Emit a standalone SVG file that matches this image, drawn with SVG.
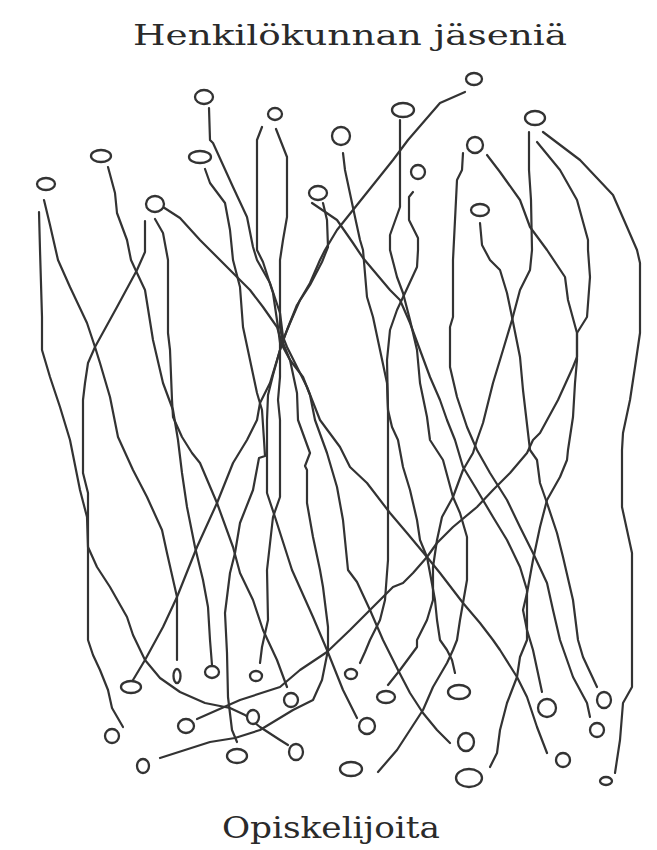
<svg xmlns="http://www.w3.org/2000/svg" width="657" height="850" viewBox="0 0 657 850">
<style>
.n{fill:#fff;stroke:#333;stroke-width:2.3}
.c{fill:none;stroke:#333;stroke-width:2.2;stroke-linejoin:round;stroke-linecap:round}
.t{font-family:"DejaVu Serif","Liberation Serif",serif;fill:#2a2a2a}
</style>
<rect width="657" height="850" fill="#fff"/>
<text class="t" x="133" y="45" font-size="28" textLength="434" lengthAdjust="spacingAndGlyphs">Henkilökunnan jäseniä</text>
<text class="t" x="222" y="838" font-size="30" textLength="218" lengthAdjust="spacingAndGlyphs">Opiskelijoita</text>
<g id="connectors">
<polyline id="A" class="c" points="39,212 40,250 42,317 42,350 50,377 60,407 70,440 75,465 80,490 87,517 88,547 97,567 110,587 127,617 133,635 145,660 160,678 180,692 205,703 230,708 245,715 260,727 280,740 288,745"/>
<polyline id="B" class="c" points="44,200 50,225 58,260 70,287 87,323 95,347 100,363 110,397 118,437 133,470 147,497 162,530 167,553 177,597 177,660"/>
<polyline id="C" class="c" points="108,167 115,193 117,213 127,240 131,260 137,273 145,290 153,340 163,383 173,410 178,440 182,473 187,507 195,547 203,580 208,607 210,640 212,665"/>
<polyline id="D" class="c" points="145,221 145,252 137,270 117,307 95,347 88,363 85,383 83,400 83,473 88,493 88,640 93,655 100,670 108,690 112,708 123,727"/>
<polyline id="E" class="c" points="155,219 163,233 168,260 168,333 170,350 172,400 173,417 182,437 192,453 200,463 217,503 233,547 240,573 253,600 263,630 277,660 287,687"/>
<polyline id="F" class="c" points="163,207 180,218 200,240 210,250 230,270 250,290 263,307 277,327 283,347 290,360 303,377 310,395 315,420 327,453 337,487 343,520 348,570 357,582 370,610 383,640 398,670 410,693 423,713 437,730 450,743"/>
<polyline id="G" class="c" points="205,169 210,183 225,203 230,230 233,260 240,287 243,327 250,360 257,393 262,410 264,440 265,456 259,458 253,490 240,523 235,553 230,573 225,613 227,653 228,697 232,730 237,742"/>
<polyline id="H" class="c" points="209,108 210,140 213,143 233,187 247,217 253,247 257,260 270,283 280,313 283,337 287,347 297,367 307,387 320,420 340,447 350,467 367,483 390,513 407,533 427,557 440,573 463,603 480,623 493,640 500,650 517,677 527,697 537,727 547,753"/>
<polyline id="I" class="c" points="262,127 257,140 257,250 263,262 273,293 278,327 280,343 280,377 278,400 280,420 280,497 273,517 267,570 268,620 262,647 260,663"/>
<polyline id="J" class="c" points="276,129 287,157 287,217 283,240 280,260 280,327 283,343 290,360 297,393 298,420 310,453 305,466 307,470 307,503 313,537 320,570 323,587 328,627 328,650 322,680 313,700 293,710 260,730 235,738 210,742 160,758"/>
<polyline id="K" class="c" points="465,92 440,103 427,118 408,140 393,160 373,185 353,210 337,230 325,250 320,260 310,283 300,300 290,323 283,340 277,360 270,383 260,403 257,420 247,440 233,463 217,503 197,547 177,597 163,627 145,660 133,680"/>
<polyline id="L7b" class="c" points="323,203 327,220 328,247 322,262 310,285 297,305 287,330 280,350 273,375 268,395 267,420 267,493 275,517 292,570 313,617 327,650 343,690 357,718"/>
<polyline id="L7a" class="c" points="312,203 337,220 353,243 363,258 390,290 400,300 410,323 420,350 430,377 440,400 447,420 455,440 463,467 477,490 493,517 507,540 520,567 527,590 527,640 520,657 517,677 507,703 500,730 497,753 490,767"/>
<polyline id="L9" class="c" points="400,120 400,207 390,235 390,250 397,277 403,293 410,320 417,350 420,383 427,417 430,440 443,460 453,497 460,513 467,537 467,580 463,603 460,620 457,640 453,650 447,663 433,687 423,710 410,730 397,750 378,772"/>
<polyline id="L10" class="c" points="343,153 345,170 355,217 360,240 363,250 367,297 373,317 380,350 387,383 388,410 392,427 398,440 403,467 410,490 417,520 420,540 427,557 430,573 435,600 437,620 440,640 447,650 452,660 455,673"/>
<polyline id="L13" class="c" points="413,192 409,197 409,220 418,238 418,250 417,267 405,293 397,310 390,330 387,360 388,410 388,560 387,573 385,600 380,620 370,640 365,652 360,663"/>
<polyline id="L11a" class="c" points="463,153 462,170 457,180 455,220 453,260 453,317 450,327 450,367 457,397 467,427 477,450 490,473 507,500 520,527 533,553 547,583 553,610 560,640 573,677 587,703 590,717"/>
<polyline id="L11b" class="c" points="487,155 500,172 520,200 530,227 547,250 565,277 568,300 577,333 577,357 573,367 558,400 540,433 533,440 527,453 510,473 493,490 477,507 453,527 437,543 427,557 413,573 403,583 393,587 387,593 370,610 350,630 327,652 300,670 280,687 240,700 197,719"/>
<polyline id="L12a" class="c" points="529,132 529,170 531,200 532,250 530,270 520,290 512,320 503,350 493,383 483,423 477,440 473,453 463,470 453,497 442,517 437,540 433,567 433,600 427,620 417,640 417,647 400,670 388,685"/>
<polyline id="L12b" class="c" points="537,142 560,170 577,200 588,240 588,250 590,277 587,317 577,333 577,360 575,383 573,417 568,450 567,460 560,477 547,500 540,527 533,560 527,593 523,610 527,630 533,650 542,692"/>
<polyline id="L12c" class="c" points="543,132 580,160 613,195 627,227 637,250 640,263 640,333 635,367 630,400 623,433 622,450 622,507 632,553 632,640 632,687 623,703 620,740 615,773"/>
<polyline id="L14" class="c" points="480,223 482,245 490,260 500,270 507,293 512,317 520,357 523,390 530,450 537,460 540,483 547,503 557,533 563,557 573,600 578,640 583,657 597,687"/>
</g>
<g id="t1"><ellipse class="n" cx="204" cy="97" rx="9" ry="7"/></g>
<g id="t2"><ellipse class="n" cx="275" cy="114" rx="7" ry="6"/></g>
<g id="t3"><ellipse class="n" cx="101" cy="156" rx="10" ry="6"/></g>
<g id="t4"><ellipse class="n" cx="200" cy="157" rx="11" ry="6"/></g>
<g id="t5"><ellipse class="n" cx="46" cy="184" rx="9" ry="6"/></g>
<g id="t6"><ellipse class="n" cx="155" cy="204" rx="9" ry="8"/></g>
<g id="t7"><ellipse class="n" cx="318" cy="193" rx="9" ry="7"/></g>
<g id="t8"><ellipse class="n" cx="474" cy="79" rx="8" ry="6"/></g>
<g id="t9"><ellipse class="n" cx="403" cy="110" rx="11" ry="7"/></g>
<g id="t10"><ellipse class="n" cx="341" cy="136" rx="9" ry="9"/></g>
<g id="t11"><ellipse class="n" cx="475" cy="145" rx="8" ry="8"/></g>
<g id="t12"><ellipse class="n" cx="535" cy="118" rx="10" ry="7"/></g>
<g id="t13"><ellipse class="n" cx="418" cy="172" rx="7" ry="7"/></g>
<g id="t14"><ellipse class="n" cx="480" cy="210" rx="9" ry="6"/></g>
<g id="b1"><ellipse class="n" cx="131" cy="687" rx="10" ry="6"/></g>
<g id="b2"><ellipse class="n" cx="177" cy="676" rx="3.5" ry="7"/></g>
<g id="b3"><ellipse class="n" cx="212" cy="672" rx="7" ry="6"/></g>
<g id="b4"><ellipse class="n" cx="256" cy="676" rx="6" ry="5"/></g>
<g id="b5"><ellipse class="n" cx="291" cy="700" rx="7" ry="7"/></g>
<g id="b6"><ellipse class="n" cx="253" cy="717" rx="6" ry="7"/></g>
<g id="b7"><ellipse class="n" cx="186" cy="726" rx="8" ry="7"/></g>
<g id="b8"><ellipse class="n" cx="112" cy="736" rx="7" ry="7"/></g>
<g id="b9"><ellipse class="n" cx="296" cy="752" rx="7" ry="8"/></g>
<g id="b10"><ellipse class="n" cx="237" cy="756" rx="10" ry="7"/></g>
<g id="b11"><ellipse class="n" cx="143" cy="766" rx="6" ry="7"/></g>
<g id="b12"><ellipse class="n" cx="351" cy="674" rx="6" ry="5"/></g>
<g id="b13"><ellipse class="n" cx="386" cy="697" rx="9" ry="6"/></g>
<g id="b14"><ellipse class="n" cx="459" cy="692" rx="11" ry="7"/></g>
<g id="b15"><ellipse class="n" cx="367" cy="726" rx="8" ry="8"/></g>
<g id="b16"><ellipse class="n" cx="547" cy="708" rx="9" ry="9"/></g>
<g id="b17"><ellipse class="n" cx="604" cy="700" rx="7" ry="8"/></g>
<g id="b18"><ellipse class="n" cx="597" cy="730" rx="7" ry="7"/></g>
<g id="b19"><ellipse class="n" cx="466" cy="742" rx="8" ry="9"/></g>
<g id="b20"><ellipse class="n" cx="563" cy="760" rx="7" ry="7"/></g>
<g id="b21"><ellipse class="n" cx="351" cy="769" rx="11" ry="7"/></g>
<g id="b22"><ellipse class="n" cx="469" cy="778" rx="13" ry="9"/></g>
<g id="b23"><ellipse class="n" cx="606" cy="781" rx="6" ry="4"/></g>
</svg>
